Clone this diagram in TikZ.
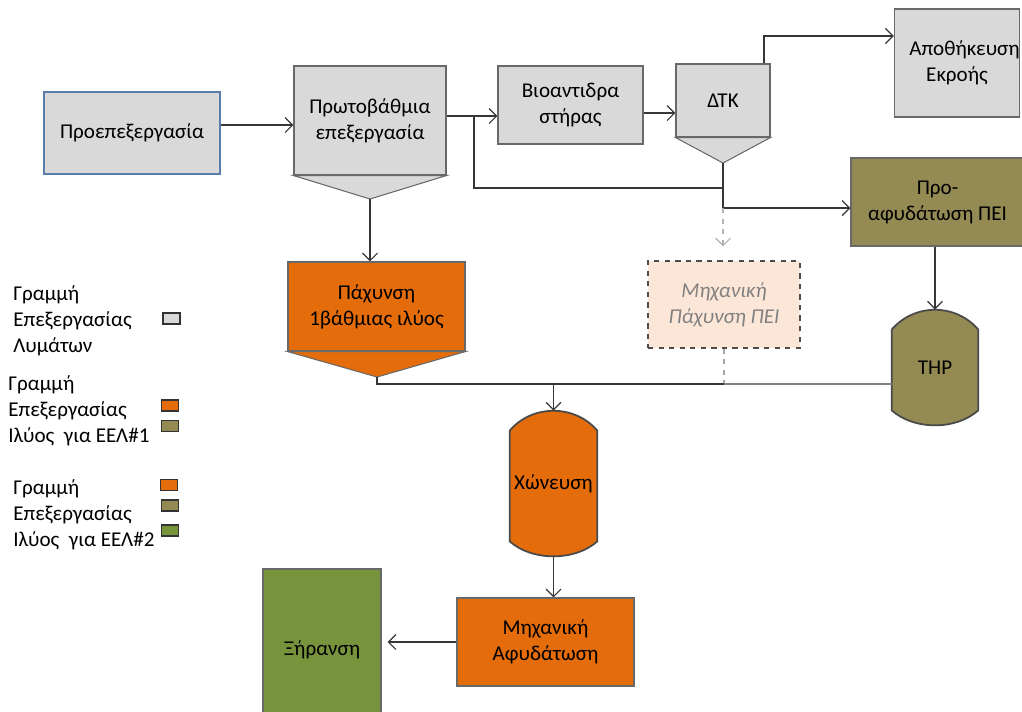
\documentclass[tikz,border=0pt]{standalone}
\usepackage{fontspec}
\setmainfont{Carlito}
\usetikzlibrary{backgrounds,arrows.meta}

\definecolor{wastegray}{RGB}{217,217,217}
\definecolor{edgegray}{RGB}{105,105,105}
\definecolor{linegray}{RGB}{55,55,55}
\definecolor{sludgeorange}{RGB}{228,108,10}
\definecolor{thpolive}{RGB}{148,138,84}
\definecolor{drygreen}{RGB}{119,147,60}
\definecolor{peach}{RGB}{252,230,216}
\definecolor{preblue}{RGB}{90,124,170}

\tikzset{
  every node/.style={font=\fontsize{12}{14.8}\selectfont},
  box/.style={draw=edgegray, line width=0.6pt, align=center, inner sep=0pt},
  tank/.style={align=center, inner sep=0pt},
  wline/.style={draw=linegray, line width=0.7pt},
  swatch/.style={draw=black!80, line width=0.8pt, minimum width=0.34cm,
    minimum height=0.22cm, inner sep=0pt},
  legend/.style={align=left, anchor=west, inner sep=0pt},
  >={Straight Barb[length=1.5mm,width=3mm]},
}

% box with a V-shaped bottom: node, tip, fill
\newcommand\hopper[3]{%
  \draw[draw=edgegray, line width=0.6pt, fill=#3]
    (#1.south west) -- (#1.south east) -- (#2) -- cycle;}

% vessel with domed top and bottom: node, fill
\newcommand\vessel[2]{%
  \begin{scope}[on background layer]
  \draw[draw=edgegray!70!black, line width=1pt, fill=#2]
    ([yshift=-0.4cm]#1.north west)
      .. controls ([xshift=0.45cm,yshift=0.13cm]#1.north west)
      and ([xshift=-0.45cm,yshift=0.13cm]#1.north east)
      .. ([yshift=-0.4cm]#1.north east)
    -- ([yshift=0.3cm]#1.south east)
      .. controls ([xshift=-0.45cm,yshift=-0.1cm]#1.south east)
      and ([xshift=0.45cm,yshift=-0.1cm]#1.south west)
      .. ([yshift=0.3cm]#1.south west) -- cycle;
  \end{scope}}

\begin{document}
\begin{tikzpicture}[x=0.02cm,y=-0.02cm]
\useasboundingbox (0,0) rectangle (1022,711);

% wastewater line
\begin{scope}[every node/.append style={fill=wastegray}]
    \node[box, draw=preblue, minimum width=3.52cm, minimum height=1.64cm] (pre) at (132,133) {Προεπεξεργασία};
    \node[box, minimum width=3.04cm, minimum height=2.18cm] (prim) at (370,120.5) {Πρωτοβάθμια\\επεξεργασία};
    \node[box, minimum width=2.9cm, minimum height=1.56cm] (bio) at (570.5,105) {Βιοαντιδρα\\στήρας};
    \node[box, minimum width=1.88cm, minimum height=1.46cm] (dtk) at (723,100.5) {ΔΤΚ};
    \node[box, minimum width=2.5cm, minimum height=2.16cm] (store) at (957,63) {\hspace*{0.3cm}Αποθήκευση\\Εκροής};
\end{scope}
\coordinate (primtip) at (370,199);
\coordinate (dtktip) at (723,163);
\hopper{prim}{primtip}{wastegray}
\hopper{dtk}{dtktip}{wastegray}

% sludge line
\node[box, fill=sludgeorange, minimum width=3.54cm, minimum height=1.78cm] (thick) at (376.5,306.5) {Πάχυνση\\1βάθμιας ιλύος};
\coordinate (thicktip) at (377,377);
\hopper{thick}{thicktip}{sludgeorange}
\node[box, fill=thpolive, minimum width=3.46cm, minimum height=1.76cm] (predew) at (937.5,202) {Προ-\\αφυδάτωση ΠΕΙ};
\node[box, dashed, draw=black!70, fill=peach, minimum width=3.04cm, minimum height=1.74cm,
      text=gray, font=\fontsize{12}{14.8}\selectfont\itshape] (mech) at (724,304.5) {Μηχανική\\Πάχυνση ΠΕΙ};
\node[tank, minimum width=1.72cm, minimum height=2.3cm] (thp) at (935,367.5) {THP};
\vessel{thp}{thpolive}
\node[tank, minimum width=1.74cm, minimum height=2.9cm] (digest) at (553.5,483.5) {Χώνευση};
\vessel{digest}{sludgeorange}
\node[box, fill=sludgeorange, minimum width=3.54cm, minimum height=1.76cm] (dewater) at (545.5,642) {Μηχανική\\Αφυδάτωση};
\node[box, fill=drygreen, minimum width=2.36cm, minimum height=3.24cm] (dry) at (322,650) {Ξήρανση};

% connectors
\draw[wline, ->] (pre.east |- 0,125) -- (prim.west |- 0,125);
\draw[wline, ->] (prim.east |- 0,116) -- (bio.west |- 0,116);
\draw[wline] (474,116) -- (474,188) -- (dtktip |- 0,188);
\draw[wline, ->] (bio.east |- 0,113) -- (dtk.west |- 0,113);
\draw[wline, ->] (dtk.north -| 764,0) |- (store.west |- 0,36);
\draw[wline, ->] (dtktip) |- (predew.west |- 0,208);
\draw[->, gray!60, line width=0.7pt, dashed, shorten >=0.28cm] (dtktip |- 0,208) -- (dtktip |- mech.north);
\draw[gray!70, line width=0.7pt, dashed] (mech.south) -- (mech.south |- 0,384);
\draw[wline, ->] (primtip) -- (primtip |- thick.north);
\draw[wline] (thicktip) -- (thicktip |- 0,384) -- (mech.south |- 0,384);
\draw[line width=0.9pt, gray] (mech.south |- 0,384) -- (thp.west |- 0,384);
\draw[wline, ->] (digest.north |- 0,384) -- (digest.north);
\draw[wline, ->] (thp.north |- predew.south) -- (thp.north);
\draw[wline, ->] (digest.south) -- (digest.south |- dewater.north);
\draw[wline, ->] (dewater.west) -- ([xshift=0.12cm]dry.east |- dewater.west);

% legend
\node[legend] (leg1) at (13,321) {Γραμμή\\Επεξεργασίας\\Λυμάτων};
\node[swatch, fill=wastegray] (sw1) at (171.5,318.5) {};
\node[legend] (leg2) at (8,411) {Γραμμή\\Επεξεργασίας\\Ιλύος~ για ΕΕΛ\#1};
\node[swatch, fill=sludgeorange] (sw2) at (170,405.5) {};
\node[swatch, fill=thpolive] (sw3) at (170,426) {};
\node[legend] (leg3) at (13,515) {Γραμμή\\Επεξεργασίας\\Ιλύος~ για ΕΕΛ\#2};
\node[swatch, fill=sludgeorange] (sw4) at (169,485) {};
\node[swatch, fill=thpolive] (sw5) at (170,505.5) {};
\node[swatch, fill=drygreen] (sw6) at (170,530.5) {};
\end{tikzpicture}
\end{document}
